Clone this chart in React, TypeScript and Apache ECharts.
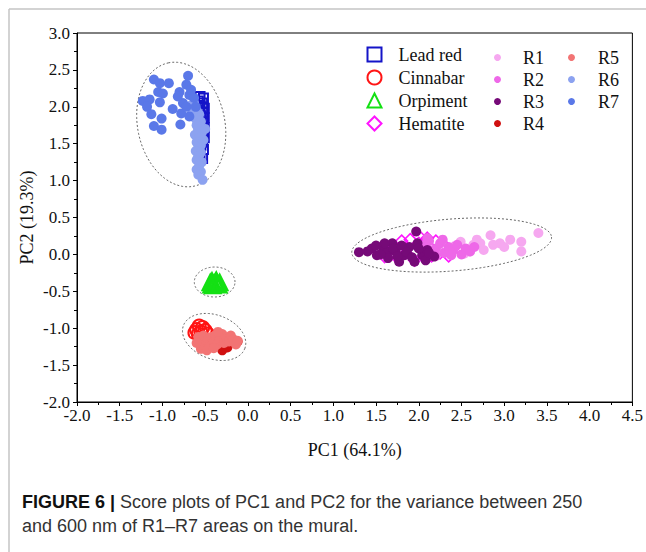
import React, { useEffect, useRef } from "react";
import * as echarts from "echarts";

// ---- data (PC1, PC2) ----
const LEAD_RED: number[][] = [
  [-0.56, 2.14], [-0.52, 2.12], [-0.58, 2.08], [-0.53, 2.05], [-0.56, 2.01], [-0.51, 1.98],
  [-0.57, 1.95], [-0.53, 1.92], [-0.55, 1.88], [-0.51, 1.85], [-0.58, 1.82], [-0.53, 1.79],
  [-0.56, 1.75], [-0.51, 1.72], [-0.57, 1.68], [-0.53, 1.65], [-0.55, 1.61], [-0.51, 1.58],
  [-0.57, 1.55], [-0.53, 1.52], [-0.55, 1.48], [-0.52, 1.42], [-0.56, 1.36], [-0.53, 1.3],
];
const CINNABAR: number[][] = [
  [-0.6, -1.02], [-0.57, -0.97], [-0.53, -0.99], [-0.5, -1.03], [-0.58, -1.08],
  [-0.47, -1.08], [-0.55, -1.05], [-0.62, -1.06],
];
const ORPIMENT: number[][] = [
  [-0.44, -0.38], [-0.42, -0.36], [-0.4, -0.4], [-0.38, -0.37], [-0.36, -0.39],
  [-0.33, -0.38], [-0.41, -0.42], [-0.37, -0.35], [-0.43, -0.41], [-0.34, -0.41],
];
const HEMATITE: number[][] = [
  [1.7, 0.12], [1.8, 0.18], [1.9, 0.2], [2.0, 0.15], [2.1, 0.22], [2.2, 0.18], [2.3, 0.12],
  [2.4, 0.08], [1.85, 0.02], [2.05, 0.05], [2.25, 0.02], [1.75, -0.05], [2.15, -0.02],
  [1.95, -0.08], [2.35, -0.02], [2.5, 0.05], [1.65, 0.05], [2.0, 0.25], [1.6, -0.03],
];
const R1: number[][] = [
  [3.4, 0.29], [3.2, 0.04], [3.07, 0.2], [2.95, 0.15], [2.87, 0.13], [2.72, 0.15],
  [2.64, 0.13], [2.76, 0.06], [2.6, 0.04], [2.49, 0.17], [2.41, 0.1], [2.53, 0.01],
  [2.33, 0.04], [3.2, 0.17], [2.22, 0.08], [2.84, 0.26], [3.0, 0.1], [2.68, 0.2],
];
const R2: number[][] = [
  [2.05, 0.12], [2.12, 0.18], [2.2, 0.08], [2.25, 0.15], [2.3, 0.02], [2.35, 0.1],
  [2.4, 0.05], [2.45, 0.13], [2.5, 0.0], [2.55, 0.08], [2.6, 0.04], [2.2, -0.02],
  [2.15, 0.05], [2.28, 0.2], [2.38, -0.01], [2.65, 0.1], [2.1, 0.22],
];
const R3: number[][] = [
  [1.3, 0.03], [1.51, -0.01], [1.58, 0.1], [1.64, 0.04], [1.69, 0.15], [1.77, -0.1],
  [1.83, -0.01], [1.89, 0.1], [1.97, 0.31], [1.985, 0.15], [2.04, -0.01], [2.08, -0.08],
  [1.95, -0.1], [2.18, -0.03], [2.1, 0.06], [1.64, -0.05], [1.73, 0.04], [1.45, 0.08],
  [1.55, 0.0], [1.6, 0.15], [1.7, 0.08], [1.75, -0.03], [1.8, 0.12], [1.86, 0.03],
  [1.92, -0.04], [2.0, 0.08], [2.12, 0.02], [1.4, 0.04], [1.5, 0.12],
];
const R4: number[][] = [
  [-0.43, -1.23], [-0.24, -1.26], [-0.12, -1.18], [-0.3, -1.3],
];
const R5: number[][] = [
  [-0.58, -1.12], [-0.55, -1.18], [-0.52, -1.1], [-0.5, -1.22], [-0.47, -1.15],
  [-0.45, -1.25], [-0.43, -1.12], [-0.4, -1.18], [-0.38, -1.1], [-0.36, -1.22],
  [-0.33, -1.15], [-0.3, -1.08], [-0.28, -1.2], [-0.25, -1.13], [-0.22, -1.18],
  [-0.2, -1.1], [-0.17, -1.15], [-0.14, -1.22], [-0.12, -1.17], [-0.55, -1.28],
  [-0.48, -1.3], [-0.4, -1.27], [-0.6, -1.2], [-0.35, -1.05],
];
const R6: number[][] = [
  [-0.6, 1.95], [-0.57, 1.9], [-0.62, 1.85], [-0.55, 1.8], [-0.6, 1.75], [-0.58, 1.7],
  [-0.54, 1.65], [-0.62, 1.62], [-0.57, 1.58], [-0.6, 1.52], [-0.55, 1.48], [-0.58, 1.45],
  [-0.61, 1.4], [-0.55, 1.38], [-0.58, 1.33], [-0.6, 1.28], [-0.54, 1.25], [-0.57, 1.2],
  [-0.6, 1.15], [-0.55, 1.12], [-0.58, 1.08], [-0.53, 1.01], [-0.5, 1.7], [-0.52, 1.55],
  [-0.63, 2.05], [-0.665, 2.02], [-0.66, 1.98],
];
const R7: number[][] = [
  [-1.1, 2.37], [-1.03, 2.32], [-0.925, 2.32], [-0.7, 2.42], [-0.72, 2.3], [-1.05, 2.2],
  [-0.995, 2.18], [-1.23, 2.08], [-1.15, 2.1], [-1.18, 2.0], [-1.03, 2.06], [-1.13, 1.9],
  [-1.01, 1.84], [-1.1, 1.74], [-1.01, 1.69], [-0.88, 1.97], [-0.8, 2.2], [-0.76, 2.05],
  [-0.685, 2.16], [-0.78, 1.91], [-0.79, 1.76], [-0.665, 2.23], [-0.63, 2.12],
  [-0.72, 2.0], [-0.61, 2.0], [-0.685, 1.87], [-0.82, 2.14],
];
// confidence ellipses: [centerX, centerY, axis1X, axis1Y, axis2X, axis2Y] (data units)
const ELLIPSES: number[][] = [
  [-0.78, 1.76, -0.152, 0.835, 0.499, 0.125],
  [2.385, 0.127, 1.169, 0.107, 0.024, -0.351],
  [-0.389, -0.374, 0.238, 0.0, 0.0, 0.203],
  [-0.395, -1.119, 0.36, -0.153, -0.087, -0.28],
];

const X_TITLE = "PC1 (64.1%)";
const Y_TITLE = "PC2 (19.3%)";
const CAPTION_HEAD = "FIGURE 6 |";
const CAPTION_L1 = " Score plots of PC1 and PC2 for the variance between 250";
const CAPTION_L2 = "and 600 nm of R1\u2013R7 areas on the mural.";

const SERIF = "Liberation Serif";
const SANS = "Liberation Sans";

const COLORS: Record<string, string> = {
  "Lead red": "#1414C8",
  Cinnabar: "#FF1414",
  Orpiment: "#14E014",
  Hematite: "#FF14FF",
  R1: "#F6A8F0",
  R2: "#EE68E8",
  R3: "#760A78",
  R4: "#D01010",
  R5: "#F27474",
  R6: "#8CA2F0",
  R7: "#5A78E8",
};

export default function App() {
  const ref = useRef<HTMLDivElement>(null);
  useEffect(() => {
    if (!ref.current) return;
    const chart = echarts.init(ref.current, undefined, { renderer: "svg" });

    const hollow = (name: string, data: number[][], symbol: string, size: number, bw: number) => ({
      name,
      type: "scatter",
      data,
      symbol,
      symbolSize: size,
      itemStyle: { color: "none", borderColor: COLORS[name], borderWidth: bw, opacity: 1 },
      z: 3,
    });
    const dots = (name: string, data: number[][]) => ({
      name,
      type: "scatter",
      data,
      symbol: "circle",
      symbolSize: 10,
      itemStyle: { color: COLORS[name], opacity: 1 },
      z: 4,
    });

    const legendBase = {
      orient: "vertical",
      itemGap: 4,
      padding: 0,
      selectedMode: false,
      textStyle: { fontFamily: SERIF, fontSize: 18, color: "#111" },
    };

    const axisLabel = {
      fontFamily: SERIF,
      fontSize: 17,
      color: "#111",
      margin: 6,
      formatter: (v: number) => v.toFixed(1),
    };
    const nameStyle = { fontFamily: SERIF, fontSize: 18, color: "#111" };

    chart.setOption({
      animation: false,
      backgroundColor: "#fff",
      textStyle: { fontFamily: SERIF, fontSize: 17, color: "#111" },
      grid: {
        left: 77,
        top: 33,
        width: 560,
        height: 369,
        show: true,
        borderColor: "#000",
        borderWidth: 1,
        backgroundColor: "transparent",
      },
      xAxis: {
        type: "value",
        min: -2,
        max: 4.5,
        interval: 0.5,
        name: X_TITLE,
        nameLocation: "middle",
        nameGap: 39,
        nameMoveOverlap: false,
        nameTextStyle: nameStyle,
        axisLine: { onZero: false, lineStyle: { color: "#000", width: 1 } },
        axisTick: { length: 4, lineStyle: { color: "#000" } },
        minorTick: { show: true, splitNumber: 2, length: 3, lineStyle: { color: "#000" } },
        splitLine: { show: false },
        axisLabel: { ...axisLabel, margin: 5 },
      },
      yAxis: {
        type: "value",
        min: -2,
        max: 3,
        interval: 0.5,
        name: Y_TITLE,
        nameLocation: "middle",
        nameGap: 41,
        nameMoveOverlap: false,
        nameTextStyle: nameStyle,
        axisLine: { onZero: false, lineStyle: { color: "#000", width: 1 } },
        axisTick: { length: 4, lineStyle: { color: "#000" } },
        minorTick: { show: true, splitNumber: 2, length: 3, lineStyle: { color: "#000" } },
        splitLine: { show: false },
        axisLabel: { ...axisLabel, margin: 7 },
      },
      legend: [
        {
          ...legendBase,
          left: 365,
          top: 45,
          itemWidth: 14,
          itemHeight: 14,
          textStyle: { ...legendBase.textStyle, padding: [0, 0, 0, 12] },
          data: [
            { name: "Lead red", icon: "rect" },
            { name: "Cinnabar", icon: "circle" },
            { name: "Orpiment", icon: "triangle" },
            { name: "Hematite", icon: "diamond" },
          ],
        },
        {
          ...legendBase,
          left: 494,
          top: 48.5,
          itemWidth: 7,
          itemHeight: 7,
          textStyle: { ...legendBase.textStyle, padding: [0, 0, 0, 17] },
          data: ["R1", "R2", "R3", "R4"],
        },
        {
          ...legendBase,
          left: 568,
          top: 48.5,
          itemWidth: 7,
          itemHeight: 7,
          textStyle: { ...legendBase.textStyle, padding: [0, 0, 0, 18] },
          data: ["R5", "R6", "R7"],
        },
      ],
      graphic: [
        {
          type: "line",
          shape: { x1: 9, y1: 9, x2: 646, y2: 9 },
          style: { stroke: "#c4c4c4", lineWidth: 1.5 },
        },
        {
          type: "line",
          shape: { x1: 9, y1: 9, x2: 9, y2: 552 },
          style: { stroke: "#c4c4c4", lineWidth: 1.5 },
        },
        {
          type: "text",
          left: 22,
          top: 493,
          style: {
            text: "{b|" + CAPTION_HEAD + "}{n|" + CAPTION_L1 + "}",
            rich: {
              b: { fontFamily: SANS, fontWeight: "bold", fontSize: 18, fill: "#111" },
              n: { fontFamily: SANS, fontSize: 18, fill: "#333" },
            },
          },
        },
        {
          type: "text",
          left: 22,
          top: 517,
          style: { text: CAPTION_L2, fontFamily: SANS, fontSize: 18, fill: "#333" },
        },
      ],
      series: [
        {
          name: "ellipses",
          type: "custom",
          data: ELLIPSES,
          encode: { x: 0, y: 1 },
          z: 1,
          silent: true,
          renderItem: (_params: any, api: any) => {
            const cx = api.value(0), cy = api.value(1);
            const ax = api.value(2), ay = api.value(3);
            const bx = api.value(4), by = api.value(5);
            const pts: number[][] = [];
            for (let i = 0; i < 120; i++) {
              const t = (i / 120) * Math.PI * 2;
              pts.push(api.coord([cx + ax * Math.cos(t) + bx * Math.sin(t), cy + ay * Math.cos(t) + by * Math.sin(t)]));
            }
            return {
              type: "polygon",
              shape: { points: pts },
              style: { fill: "none", stroke: "#666", lineWidth: 1, lineDash: [2, 2] },
            };
          },
        },
        hollow("Lead red", LEAD_RED, "rect", 9, 2),
        hollow("Cinnabar", CINNABAR, "circle", 13, 2),
        hollow("Orpiment", ORPIMENT, "triangle", 15, 2.5),
        hollow("Hematite", HEMATITE, "diamond", 12, 1.5),
        dots("R1", R1),
        dots("R2", R2),
        dots("R3", R3),
        dots("R4", R4),
        dots("R5", R5),
        dots("R6", R6),
        dots("R7", R7),
      ],
    });
    return () => chart.dispose();
  }, []);
  return (
    <div
      ref={ref}
      style={{ position: "absolute", left: 0, top: 0, width: 646, height: 552, background: "#fff" }}
    />
  );
}
